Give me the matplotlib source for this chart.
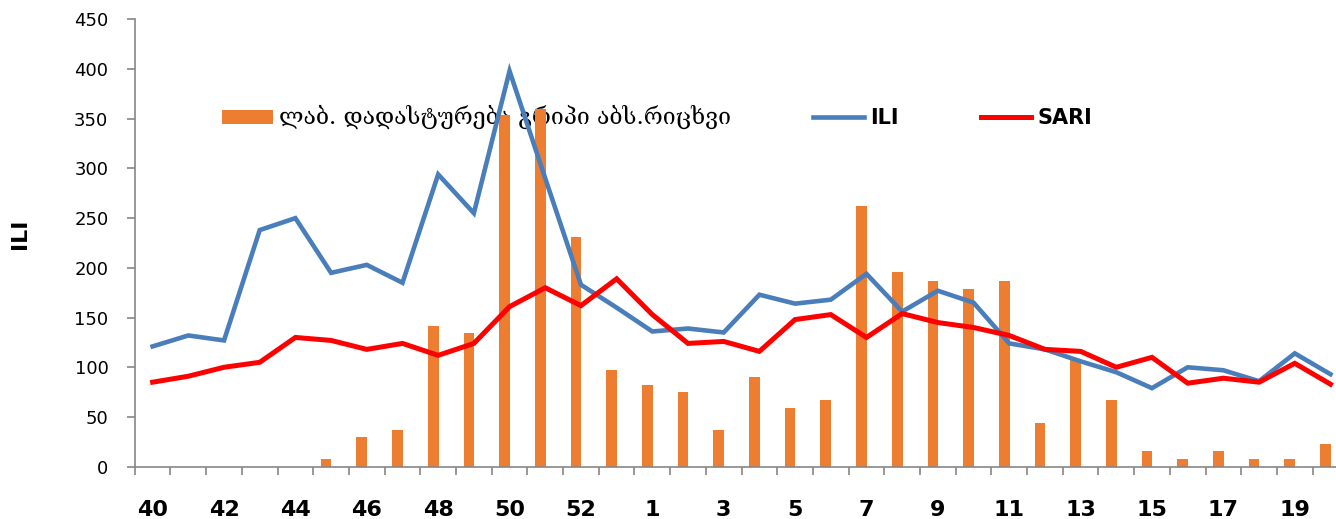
import matplotlib
matplotlib.use("Agg")
import matplotlib.pyplot as plt
import numpy as np

# Surveillance weeks (season spans the turn of the year, 53-week year)
weeks = [str(w) for w in range(40, 54)] + [str(w) for w in range(1, 21)]

# Lab-confirmed influenza cases (absolute numbers)
lab_confirmed = [0, 0, 0, 0, 0, 8, 30, 37, 142, 134, 354, 360, 231, 97,
                 82, 75, 37, 90, 59, 67, 262, 196, 187, 179, 187, 44, 107, 67,
                 16, 8, 16, 8, 8, 23]

# Influenza-like illness
ili = [121, 132, 127, 238, 250, 195, 203, 185, 294, 255, 398, 290, 183, 160,
       136, 139, 135, 173, 164, 168, 194, 156, 177, 165, 124, 118, 106, 95,
       79, 100, 97, 86, 114, 93]

# Severe acute respiratory infection
sari = [85, 91, 100, 105, 130, 127, 118, 124, 112, 124, 161, 180, 162, 189,
        153, 124, 126, 116, 148, 153, 130, 154, 145, 140, 132, 118, 116, 100,
        110, 84, 89, 85, 104, 83]

bar_label = "ლაბ. დადასტურება გრიპი აბს.რიცხვი"
y_ticks = [0, 50, 100, 150, 200, 250, 300, 350, 400, 450]

ORANGE = "#ED7D31"
BLUE = "#4A7EBB"
RED = "#FF0000"
AXIS_GRAY = "#868686"

W, H = 1336, 519
fig = plt.figure(figsize=(W / 100, H / 100), dpi=100)
ax = fig.add_axes([134.8 / W, 52.3 / H, 1213.5 / W, 447.4 / H])

x = np.arange(len(weeks))
bars = ax.bar(x - 0.14, lab_confirmed, width=0.3, color=ORANGE, zorder=2)
ili_line, = ax.plot(x, ili, color=BLUE, lw=3.3, zorder=3,
                    solid_joinstyle="miter")
sari_line, = ax.plot(x, sari, color=RED, lw=3.6, zorder=4,
                     solid_joinstyle="miter")

ax.set_xlim(-0.5, len(weeks) - 0.5)
ax.set_ylim(0, 450)
ax.set_yticks(y_ticks)
ax.set_yticklabels([str(v) for v in y_ticks], fontsize=13,
                   family="DejaVu Sans")

# Category boundaries carry the tick marks, every other category a label
ax.set_xticks(np.arange(len(weeks) + 1) - 0.5)
ax.set_xticklabels([])
ax.set_xticks(x[::2], minor=True)
ax.set_xticklabels(weeks[::2], minor=True, fontsize=16, fontweight="bold",
                   family="DejaVu Sans")
ax.tick_params(axis="x", which="major", direction="out", length=6,
               width=1.2, color=AXIS_GRAY)
ax.tick_params(axis="x", which="minor", length=0, pad=24)
ax.tick_params(axis="y", direction="out", length=6, width=1.2,
               color=AXIS_GRAY, pad=13)

for side in ("top", "right"):
    ax.spines[side].set_visible(False)
for side in ("left", "bottom"):
    ax.spines[side].set_color(AXIS_GRAY)
    ax.spines[side].set_linewidth(1.2)

ax.set_ylabel("ILI", fontsize=16, fontweight="bold", family="DejaVu Sans")
ax.yaxis.set_label_coords(-0.086, 0.52)

leg = ax.legend([bars, ili_line, sari_line], [bar_label, "ILI", "SARI"],
                loc="center left", bbox_to_anchor=(222 / W, 1 - 117 / H),
                bbox_transform=fig.transFigure, ncol=3, frameon=False,
                borderaxespad=0, borderpad=0, fontsize=14,
                handlelength=2.6, handleheight=0.75, handletextpad=0.35,
                columnspacing=4.2)
leg.set_zorder(1)
texts = leg.get_texts()
texts[0].set_family("DejaVu Serif")
texts[0].set_fontsize(16.6)
for t in texts[1:]:
    t.set_fontweight("bold")
    t.set_fontsize(15)

fig.savefig("out.png", dpi=100)
